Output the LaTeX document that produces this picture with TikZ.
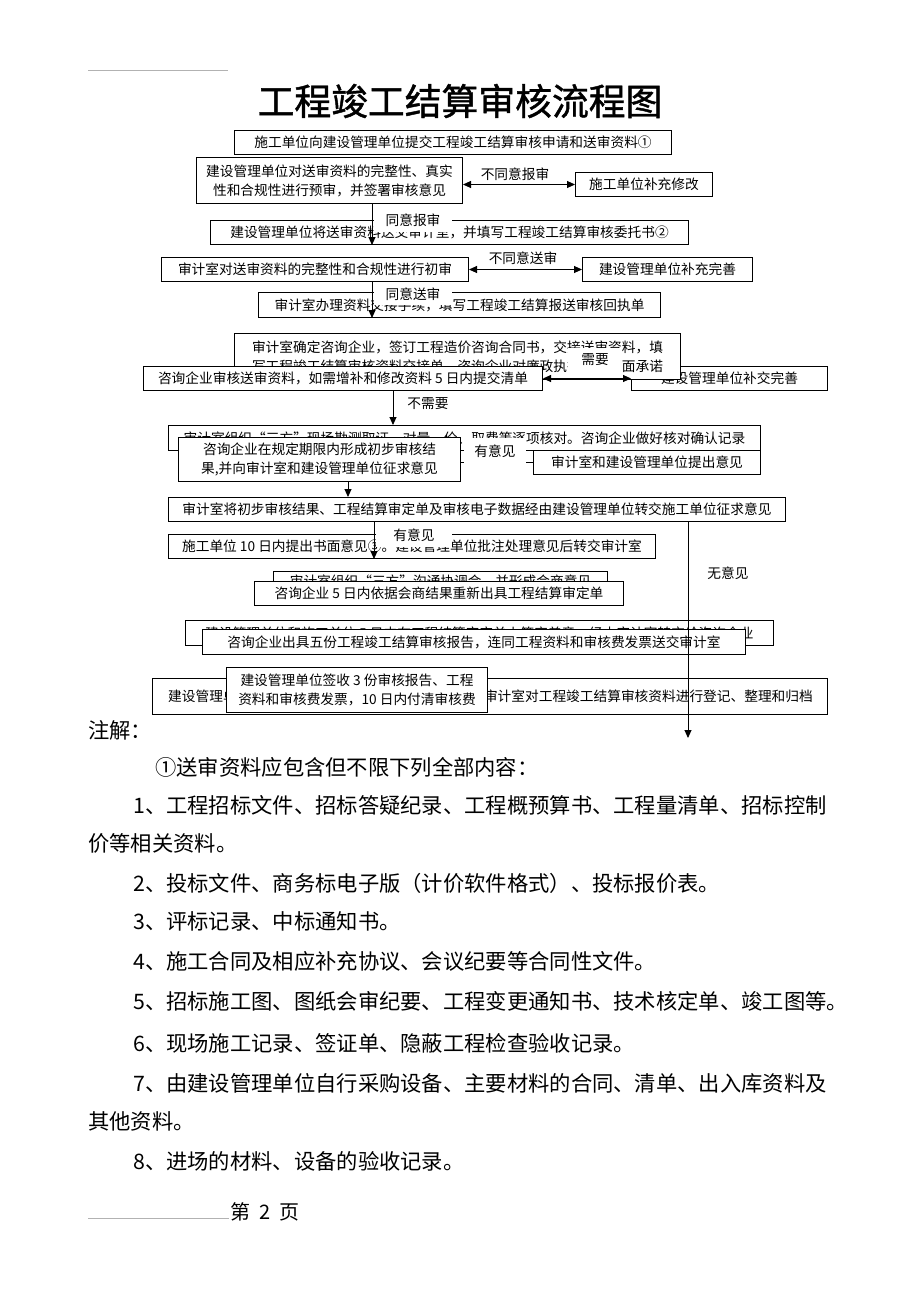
\documentclass[tikz,border=0pt]{standalone}
\usepackage{fontspec}
\setmainfont{Noto Sans CJK SC}
\newfontfamily\titlefont{Noto Sans CJK SC}[FakeBold=1.2]
\usetikzlibrary{arrows.meta}
\newcommand{\mybox}[6]{\node[box, minimum width={#4-#2}, minimum height={#5-#3}] (#1) at (#2,#3) {#6};}
\begin{document}
\begin{tikzpicture}[x=1pt,y=-1pt,
  box/.style={draw, line width=1pt, fill=white, inner sep=0pt, anchor=north west, align=center, font=\fontsize{13.7}{19}\selectfont},
  lbl/.style={fill=white, inner sep=0pt, font=\fontsize{13.7}{16}\selectfont},
  plain/.style={inner sep=0pt, font=\fontsize{13.7}{16}\selectfont},
  conn/.style={line width=0.9pt},
  arr/.style={conn, -{Triangle[length=8pt,width=7pt]}},
  darr/.style={conn, {Triangle[length=8pt,width=7pt]}-{Triangle[length=8pt,width=7pt]}},
  note/.style={anchor=base west, inner sep=0pt, font=\fontsize{21.3}{22}\selectfont},
  hline/.style={gray!60, line width=0.7pt}
]
\useasboundingbox[fill=white] (0,0) rectangle (920,1302);

% header
\coordinate (h1) at (88,70);
\coordinate (h2) at (228,70);
\draw[hline] (h1) -- (h2);
\node[inner sep=0pt, font=\titlefont\fontsize{36.8}{40}\selectfont] (title) at (460,101) {工程竣工结算审核流程图};

% row 1-3
\mybox{b1}{234}{130}{671}{154}{施工单位向建设管理单位提交工程竣工结算审核申请和送审资料①}
\mybox{b2}{196}{157}{462}{203}{建设管理单位对送审资料的完整性、真实\\性和合规性进行预审，并签署审核意见}
\mybox{b3}{575}{172}{712}{196}{施工单位补充修改}
\draw[darr] (b3.west -| b2.east) -- (b3.west);
\node[plain] (t1) at (515,174) {不同意报审};

\mybox{b4}{210}{220}{688}{244}{建设管理单位将送审资料送交审计室，并填写工程竣工结算审核委托书②}
\coordinate (v1) at (372,0);
\draw[arr] (b2.south -| v1) -- (b4.south -| v1);
\node[lbl, minimum width=78, minimum height=23] (l1) at (413,220) {同意报审};

% row 4-5
\mybox{b5}{161}{257}{468}{281}{审计室对送审资料的完整性和合规性进行初审}
\mybox{b6}{582}{257}{752}{281}{建设管理单位补充完善}
\draw[darr] (b5.east) -- (b5.east -| b6.west);
\node[plain] (t2) at (523,258) {不同意送审};

\mybox{b7}{258}{292}{660}{317}{审计室办理资料交接手续，填写工程竣工结算报送审核回执单}
\draw[arr] (b5.south -| v1) -- (b7.south -| v1);
\node[lbl, minimum width=78, minimum height=22] (l2) at (413,294) {同意送审};

% row 6-8
\mybox{b10}{631}{366}{827}{390}{建设管理单位补交完善}
\mybox{b8}{234}{333}{680}{379}{审计室确定咨询企业，签订工程造价咨询合同书，交接送审资料，填\\写工程竣工结算审核资料交接单，咨询企业对廉政执行作出书面承诺}
\mybox{b9}{143}{366}{542}{390}{咨询企业审核送审资料，如需增补和修改资料 5 日内提交清单}
\draw[darr] (b9.east) -- (b9.east -| b10.west);
\node[lbl, minimum width=54, minimum height=25] (l3) at (595,360) {需要};

% row 9-11
\mybox{b11}{168}{425}{760}{450}{审计室组织“三方”现场勘测取证，对量、价、取费等逐项核对。咨询企业做好核对确认记录}
\coordinate (v2) at (393,0);
\draw[arr] (b9.south -| v2) -- (b11.north -| v2);
\node[plain] (t3) at (428,404) {不需要};
\mybox{b12}{178}{437}{460}{481}{咨询企业在规定期限内形成初步审核结\\果,并向审计室和建设管理单位征求意见}
\mybox{b13}{533}{450}{760}{474}{审计室和建设管理单位提出意见}
\draw[conn] (b13.west -| b12.east) -- (b13.west);
\node[lbl, minimum width=62, minimum height=27] (l4) at (495,451) {有意见};

% row 12-13
\mybox{b14}{168}{497}{785}{521}{审计室将初步审核结果、工程结算审定单及审核电子数据经由建设管理单位转交施工单位征求意见}
\coordinate (v3) at (348,0);
\draw[arr] (b12.south -| v3) -- (b14.north -| v3);
\mybox{b15}{168}{534}{655}{558}{施工单位 10 日内提出书面意见③。建设管理单位批注处理意见后转交审计室}
\coordinate (v4) at (374,0);
\draw[arr] (b14.south -| v4) -- (b15.south -| v4);
\node[lbl, minimum width=76, minimum height=23] (l5) at (414,535) {有意见};

% row 14-17
\mybox{b16}{273}{571}{607}{590}{审计室组织“三方”沟通协调会，并形成会商意见}
\mybox{b17}{254}{581}{623}{605}{咨询企业 5 日内依据会商结果重新出具工程结算审定单}
\mybox{b18}{185}{620}{773}{645}{建设管理单位和施工单位 5 日内在工程结算审定单上签字盖章，经由审计室转交给咨询企业}
\mybox{b19}{202}{629}{745}{654}{咨询企业出具五份工程竣工结算审核报告，连同工程资料和审核费发票送交审计室}

% bottom row
\mybox{b20}{152}{678}{827}{714}{}
\node[plain, anchor=west] (t20a) at (168,696) {建设管理单位};
\node[plain, anchor=east] (t20b) at (813,696) {审计室对工程竣工结算审核资料进行登记、整理和归档};
\mybox{b21}{226}{667}{487}{712}{建设管理单位签收 3 份审核报告、工程\\资料和审核费发票，10 日内付清审核费}

% long "no opinion" line
\coordinate (endA) at (688,738);
\draw[arr] (b14.south -| endA) -- (endA);
\node[plain] (t4) at (728,573) {无意见};

% notes
\node[note] (n0) at (88,738) {注解：};
\node[note] (n1) at (155,775) {①送审资料应包含但不限下列全部内容：};
\node[note] (n2) at (133,813) {1、工程招标文件、招标答疑纪录、工程概预算书、工程量清单、招标控制};
\node[note] (n3) at (88,851) {价等相关资料。};
\node[note] (n4) at (133,891) {2、投标文件、商务标电子版（计价软件格式）、投标报价表。};
\node[note] (n5) at (133,929) {3、评标记录、中标通知书。};
\node[note] (n6) at (133,969) {4、施工合同及相应补充协议、会议纪要等合同性文件。};
\node[note] (n7) at (133,1009) {5、招标施工图、图纸会审纪要、工程变更通知书、技术核定单、竣工图等。};
\node[note] (n8) at (133,1051) {6、现场施工记录、签证单、隐蔽工程检查验收记录。};
\node[note] (n9) at (133,1091) {7、由建设管理单位自行采购设备、主要材料的合同、清单、出入库资料及};
\node[note] (n10) at (88,1129) {其他资料。};
\node[note] (n11) at (133,1169) {8、进场的材料、设备的验收记录。};

% footer
\coordinate (f1) at (88,1218);
\coordinate (f2) at (229,1218);
\draw[hline] (f1) -- (f2);
\node[note, font=\fontsize{20}{22}\selectfont] (pg) at (230,1219) {第\hspace{0.45em}2\hspace{0.45em}页};
\end{tikzpicture}
\end{document}
